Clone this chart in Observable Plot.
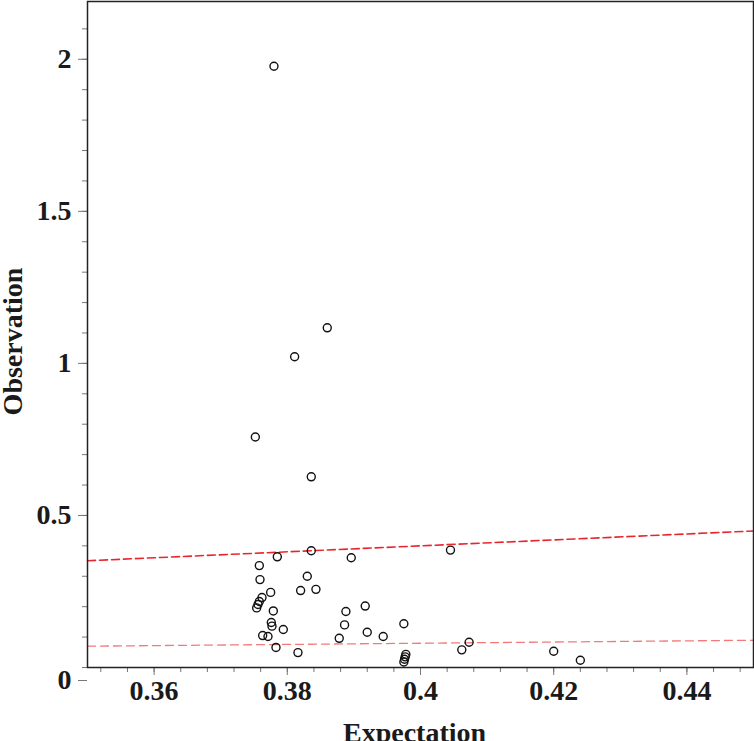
<!DOCTYPE html>
<html>
<head>
<meta charset="utf-8">
<script src="https://cdn.jsdelivr.net/npm/d3@7"></script>
<script src="https://cdn.jsdelivr.net/npm/@observablehq/plot@0.6"></script>
<style>
  html, body { margin: 0; padding: 0; background: #fff; }
  #chart svg { display: block; }
</style>
</head>
<body>
<div id="chart"></div>
<script>
// Observed points (Expectation, Observation)
const expectation = [
  0.3780, 0.3860, 0.3811, 0.3752, 0.3836, 0.3836, 0.4045, 0.3785, 0.3896, 0.3758,
  0.3759, 0.3830, 0.3775, 0.3820, 0.3843, 0.3762, 0.3758, 0.3756, 0.3754, 0.3779,
  0.3888, 0.3917, 0.3776, 0.3777, 0.3794, 0.3886, 0.3920, 0.3975, 0.3763, 0.3771,
  0.3878, 0.3944, 0.3783, 0.3816, 0.4073, 0.4062, 0.4200, 0.4240, 0.3978, 0.3977,
  0.3976, 0.3975
];
const observation = [
  1.977, 1.117, 1.022, 0.758, 0.627, 0.384, 0.386, 0.364, 0.361, 0.335,
  0.289, 0.300, 0.247, 0.253, 0.257, 0.230, 0.217, 0.207, 0.196, 0.186,
  0.184, 0.202, 0.148, 0.136, 0.125, 0.140, 0.116, 0.144, 0.105, 0.102,
  0.096, 0.102, 0.066, 0.049, 0.083, 0.058, 0.0535, 0.024, 0.043, 0.035,
  0.027, 0.018
];

// Dashed reference lines (endpoints)
const upperLineX = [0.35, 0.45];
const upperLineY = [0.351, 0.449];
const lowerLineX = [0.35, 0.45];
const lowerLineY = [0.070, 0.0896];

// Tick values and labels
const xTicks = [0.36, 0.38, 0.40, 0.42, 0.44];
const xTickLabels = ["0.36", "0.38", "0.4", "0.42", "0.44"];
const yTicks = [0.5, 1, 1.5, 2];
const yTickLabels = ["0.5", "1", "1.5", "2"];
const yZeroTick = [0];
const yZeroLabel = ["0"];
const xMinorTicks = d3.range(0, 25).map(i => +(0.352 + i * 0.004).toFixed(3));
const yMinorTicks = d3.range(0, 22).map(i => +(i * 0.1).toFixed(1));

const xLabel = "Expectation";
const yLabel = "Observation";

const points = expectation.map((x, i) => ({x, y: observation[i]}));
const upper = upperLineX.map((x, i) => ({x, y: upperLineY[i]}));
const lower = lowerLineX.map((x, i) => ({x, y: lowerLineY[i]}));

const font = "'Liberation Serif', 'Times New Roman', serif";
const xFmt = d => xTickLabels[xTicks.findIndex(t => Math.abs(t - d) < 1e-9)];
const yFmt = d => yTickLabels[yTicks.findIndex(t => Math.abs(t - d) < 1e-9)];

const chart = Plot.plot({
  width: 754,
  height: 741,
  marginLeft: 87,
  marginRight: 1,
  marginTop: 1,
  marginBottom: 74,
  style: {fontFamily: font, fontWeight: "bold", fontSize: "28px", color: "#1a1a1a", overflow: "visible"},
  x: {domain: [0.35, 0.45], label: null},
  y: {domain: [0, 2.19], label: null},
  marks: [
    // minor ticks
    Plot.axisX(xMinorTicks, {tickSize: 5, text: null, stroke: "#777", anchor: "bottom"}),
    Plot.axisY(yMinorTicks, {tickSize: 5, text: null, stroke: "#777", anchor: "left"}),
    // major ticks with labels
    Plot.axisX(xTicks, {tickSize: 8, tickPadding: 5, tickFormat: xFmt, stroke: "#777", fill: "#1a1a1a", fontSize: 28, fontWeight: "bold", anchor: "bottom"}),
    Plot.axisY(yTicks, {tickSize: 9, tickPadding: 7, tickFormat: yFmt, stroke: "#777", fill: "#1a1a1a", fontSize: 28, fontWeight: "bold", anchor: "left"}),
    Plot.axisY(yZeroTick, {tickSize: 9, tickPadding: 7, tickFormat: (d, i) => yZeroLabel[i], stroke: "#777", fill: "#1a1a1a", fontSize: 28, fontWeight: "bold", anchor: "left", dy: 13}),
    // reference lines
    Plot.line(upper, {x: "x", y: "y", stroke: "#e8262e", strokeWidth: 1.6, strokeDasharray: "8,4"}),
    Plot.line(lower, {x: "x", y: "y", stroke: "#f27a7a", strokeWidth: 1.3, strokeDasharray: "8,5"}),
    // points
    Plot.dot(points, {x: "x", y: "y", r: 4, stroke: "#111", strokeWidth: 1.4, fill: "none"}),
    Plot.frame({stroke: "#222", strokeWidth: 1.5}),
    // axis titles
    Plot.text([yLabel], {frameAnchor: "left", text: d => d, textAnchor: "middle", rotate: -90, dx: -74, dy: 7, fontSize: 28, fontWeight: "bold", fill: "#1a1a1a"}),
    Plot.text([xLabel], {frameAnchor: "bottom", text: d => d, textAnchor: "middle", lineAnchor: "top", dx: -6, dy: 55, fontSize: 28, fontWeight: "bold", fill: "#1a1a1a"})
  ]
});
document.getElementById("chart").appendChild(chart);
</script>
</body>
</html>
